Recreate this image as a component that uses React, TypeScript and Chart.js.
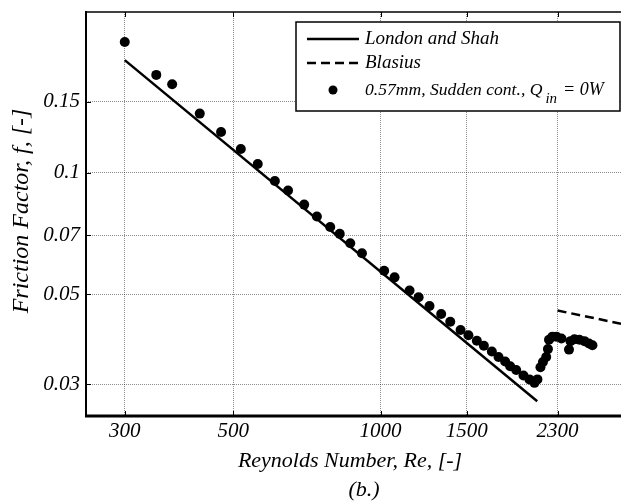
import { useEffect, useRef } from "react";
import { Chart, registerables } from "chart.js";

Chart.register(...registerables);

// Measured data: 0.57mm, Sudden contraction, Q_in = 0W
const reynolds = [
  300, 348, 375, 427, 472, 518, 561, 608, 647, 698, 741, 789, 825, 867, 916,
  1017, 1068, 1146, 1196, 1259, 1330, 1388, 1457, 1512, 1573, 1626, 1688, 1742,
  1797, 1840, 1893, 1959, 2015, 2063, 2092, 2122, 2147, 2180, 2198, 2209, 2245,
  2288, 2342, 2427, 2444, 2490, 2549, 2610, 2666, 2710,
];
const friction = [
  0.2107, 0.1747, 0.1656, 0.1401, 0.1262, 0.1145, 0.1051, 0.0954, 0.0904,
  0.0834, 0.0779, 0.0734, 0.0706, 0.0669, 0.0632, 0.0572, 0.0551, 0.0511,
  0.0492, 0.0468, 0.0447, 0.0428, 0.0408, 0.0396, 0.0384, 0.0373, 0.0361,
  0.035, 0.0341, 0.0332, 0.0325, 0.0315, 0.0308, 0.0302, 0.0308, 0.033, 0.034,
  0.035, 0.0366, 0.0386, 0.0393, 0.0393, 0.0389, 0.0365, 0.0383, 0.0387,
  0.0386, 0.0383, 0.0378, 0.0374,
];

// London and Shah (laminar) line end points
const londonShahRe = [300, 2090];
const londonShahF = [0.19, 0.0272];

// Blasius line end points
const blasiusRe = [2300, 3100];
const blasiusF = [0.0456, 0.0423];

const xTicks = [300, 500, 1000, 1500, 2300];
const yTicks = [0.03, 0.05, 0.07, 0.1, 0.15];

const legendLabels = ["London and Shah", "Blasius", "0.57mm, Sudden cont., Q"];

const FONT = "'Liberation Serif', 'Times New Roman', serif";

const decorPlugin = {
  id: "decor",
  afterDatasetsDraw(chart: any) {
    const { ctx, chartArea: a, scales } = chart;
    const xs = scales.x;
    const ys = scales.y;
    ctx.save();
    ctx.strokeStyle = "#000";
    ctx.fillStyle = "#000";

    // inward ticks
    ctx.lineWidth = 1;
    ctx.beginPath();
    for (const v of xTicks) {
      const px = Math.round(xs.getPixelForValue(v)) + 0.5;
      ctx.moveTo(px, a.bottom);
      ctx.lineTo(px, a.bottom - 5);
      ctx.moveTo(px, a.top);
      ctx.lineTo(px, a.top + 5);
    }
    for (const v of yTicks) {
      const py = Math.round(ys.getPixelForValue(v)) + 0.5;
      ctx.moveTo(a.left, py);
      ctx.lineTo(a.left + 5, py);
    }
    ctx.stroke();

    // frame
    ctx.lineWidth = 2;
    ctx.beginPath();
    ctx.moveTo(a.left, a.top - 1);
    ctx.lineTo(a.left, a.bottom + 1);
    ctx.stroke();
    ctx.lineWidth = 3;
    ctx.beginPath();
    ctx.moveTo(a.left - 1, a.bottom);
    ctx.lineTo(a.right, a.bottom);
    ctx.stroke();
    ctx.lineWidth = 1.5;
    ctx.beginPath();
    ctx.moveTo(a.left, a.top);
    ctx.lineTo(a.right, a.top);
    ctx.stroke();

    // legend box
    const bx = 296, by = 22, bw = 324, bh = 89;
    ctx.fillStyle = "#fff";
    ctx.fillRect(bx, by, bw, bh);
    ctx.lineWidth = 1.5;
    ctx.strokeStyle = "#000";
    ctx.strokeRect(bx, by, bw, bh);

    ctx.fillStyle = "#000";
    ctx.font = `italic 19px ${FONT}`;
    ctx.textBaseline = "middle";
    ctx.textAlign = "left";
    const rows = [39, 63, 90];
    const tx = 365;

    ctx.lineWidth = 2.5;
    ctx.beginPath();
    ctx.moveTo(307, rows[0]);
    ctx.lineTo(359, rows[0]);
    ctx.stroke();
    ctx.fillText(legendLabels[0], tx, rows[0]);

    ctx.setLineDash([9, 5]);
    ctx.beginPath();
    ctx.moveTo(307, rows[1]);
    ctx.lineTo(359, rows[1]);
    ctx.stroke();
    ctx.setLineDash([]);
    ctx.fillText(legendLabels[1], tx, rows[1]);

    ctx.beginPath();
    ctx.arc(333, rows[2], 4.5, 0, Math.PI * 2);
    ctx.fill();
    ctx.font = `italic 17.6px ${FONT}`;
    ctx.fillText(legendLabels[2], tx, rows[2]);
    let cx = tx + ctx.measureText(legendLabels[2]).width + 3;
    ctx.font = `italic 15px ${FONT}`;
    ctx.fillText("in", cx, rows[2] + 9);
    cx += ctx.measureText("in").width + 6;
    ctx.font = `italic 18px ${FONT}`;
    ctx.fillText("= 0W", cx, rows[2]);

    // axis titles
    ctx.font = `italic 22px ${FONT}`;
    ctx.textAlign = "center";
    ctx.fillText("Reynolds Number, Re, [-]", 350, 461);
    ctx.fillText("(b.)", 364, 490);
    ctx.save();
    ctx.translate(22, 211);
    ctx.rotate(-Math.PI / 2);
    ctx.font = `italic 24px ${FONT}`;
    ctx.fillText("Friction Factor, f, [-]", 0, 0);
    ctx.restore();

    ctx.restore();
  },
};

export default function App() {
  const ref = useRef<HTMLCanvasElement | null>(null);

  useEffect(() => {
    if (!ref.current) return;
    const chart = new Chart(ref.current, {
      type: "scatter",
      data: {
        datasets: [
          {
            label: "0.57mm, Sudden cont., Q_in = 0W",
            data: reynolds.map((r, i) => ({ x: r, y: friction[i] })),
            pointRadius: 5,
            pointBackgroundColor: "#000",
            pointBorderWidth: 0,
            showLine: false,
          },
          {
            label: "London and Shah",
            data: londonShahRe.map((r, i) => ({ x: r, y: londonShahF[i] })),
            showLine: true,
            borderColor: "#000",
            borderWidth: 2.5,
            pointRadius: 0,
          },
          {
            label: "Blasius",
            data: blasiusRe.map((r, i) => ({ x: r, y: blasiusF[i] })),
            showLine: true,
            borderColor: "#000",
            borderWidth: 2.5,
            borderDash: [9, 5],
            pointRadius: 0,
          },
        ],
      },
      options: {
        responsive: false,
        animation: false,
        devicePixelRatio: 1,
        layout: { autoPadding: false, padding: { top: 12, right: 0, left: 0, bottom: 0 } },
        plugins: {
          legend: { display: false },
          tooltip: { enabled: false },
          title: { display: false },
        },
        scales: {
          x: {
            type: "logarithmic",
            position: "bottom",
            min: 250,
            max: 3100,
            afterBuildTicks: (s: any) => {
              s.ticks = xTicks.map((v) => ({ value: v }));
            },
            afterFit: (s: any) => {
              s.height = 86;
              s.paddingLeft = 0;
              s.paddingRight = 0;
            },
            ticks: {
              autoSkip: false,
              maxRotation: 0,
              padding: 3,
              color: "#000",
              font: { family: FONT, style: "italic", size: 21 },
              callback: (v: any) => String(v),
            },
            grid: {
              color: "rgba(0,0,0,0.45)",
              lineWidth: 1,
              drawTicks: false,
            },
            border: { display: false, dash: [1, 1] },
          },
          y: {
            type: "logarithmic",
            position: "left",
            min: 0.025,
            max: 0.25,
            afterBuildTicks: (s: any) => {
              s.ticks = yTicks.map((v) => ({ value: v }));
            },
            afterFit: (s: any) => {
              s.width = 86;
              s.paddingTop = 0;
              s.paddingBottom = 0;
            },
            ticks: {
              autoSkip: false,
              padding: 6,
              color: "#000",
              font: { family: FONT, style: "italic", size: 21 },
              callback: (v: any) => String(v),
            },
            grid: {
              color: "rgba(0,0,0,0.45)",
              lineWidth: 1,
              drawTicks: false,
            },
            border: { display: false, dash: [1, 1] },
          },
        },
      },
      plugins: [decorPlugin],
    } as any);
    return () => chart.destroy();
  }, []);

  return (
    <div style={{ position: "fixed", left: 0, top: 0, width: 621, height: 502, background: "#fff" }}>
      <canvas ref={ref} width={621} height={502} />
    </div>
  );
}
